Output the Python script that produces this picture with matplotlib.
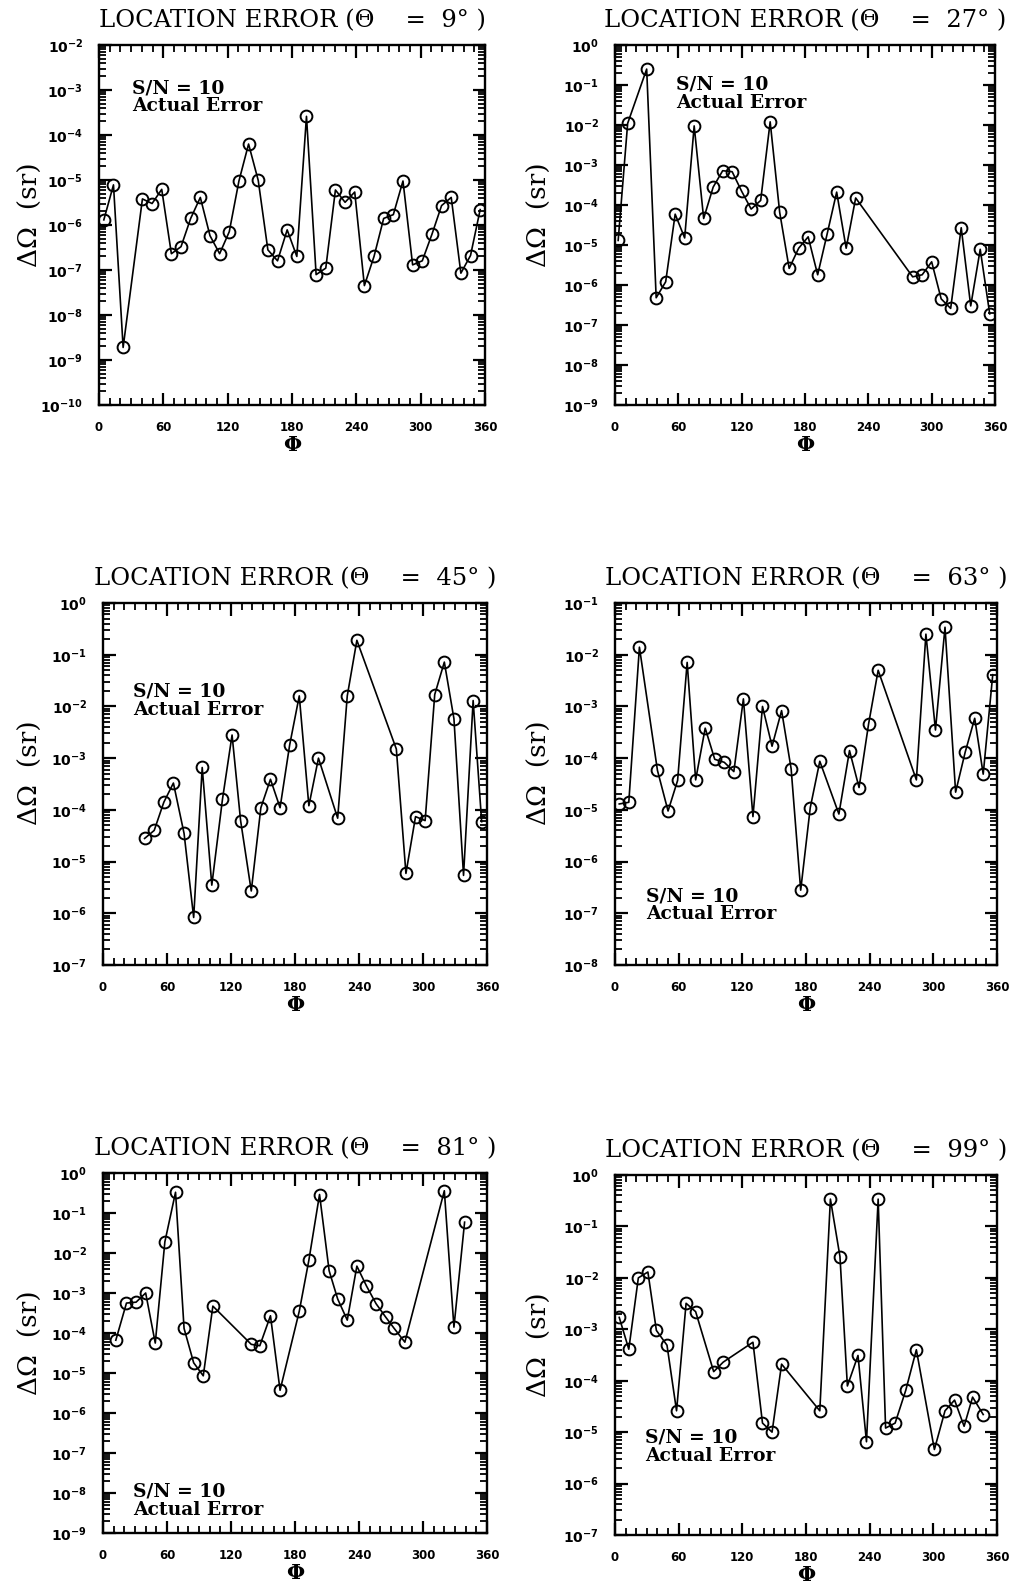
import numpy as np
import matplotlib
matplotlib.use('Agg')
import matplotlib.pyplot as plt
from matplotlib.ticker import MultipleLocator, LogLocator, FuncFormatter, NullFormatter

# location error vs phi for six theta values (S/N = 10)
phi_09 = [4.5, 13.5, 22.5, 40.5, 49.5, 58.5, 67.5, 76.5, 85.5, 94.5, 103.5, 112.5, 121.5,
          130.5, 139.5, 148.5, 157.5, 166.5, 175.5, 184.5, 193.5, 202.5, 211.5, 220.5, 229.5,
          238.5, 247.5, 256.5, 265.5, 274.5, 283.5, 292.5, 301.5, 310.5, 319.5, 328.5,
          337.5, 346.5, 355.5]
err_09 = [1.3e-6, 7.8e-6, 1.9e-9, 3.8e-6, 3.0e-6, 6.2e-6, 2.3e-7, 3.3e-7, 1.4e-6, 4.1e-6,
          5.8e-7, 2.3e-7, 7.1e-7, 9.5e-6, 6.3e-5, 9.8e-6, 2.8e-7, 1.6e-7, 7.8e-7, 2.0e-7,
          2.6e-4, 7.9e-8, 1.1e-7, 6.0e-6, 3.2e-6, 5.4e-6, 4.5e-8, 2.0e-7, 1.4e-6, 1.7e-6,
          9.5e-6, 1.3e-7, 1.6e-7, 6.2e-7, 2.7e-6, 4.1e-6, 8.5e-8, 2.1e-7, 2.2e-6]

phi_27 = [3, 12, 30, 39, 48, 57, 66, 75, 84, 93, 102, 111, 120, 129, 138, 147, 156, 165,
          174, 183, 192, 201, 210, 219, 228, 282, 291, 300, 309, 318, 328, 337, 346, 355]
err_27 = [1.3e-5, 1.1e-2, 2.5e-1, 4.8e-7, 1.2e-6, 5.9e-5, 1.5e-5, 9.5e-3, 4.6e-5, 2.8e-4,
          7.2e-4, 6.8e-4, 2.2e-4, 7.9e-5, 1.3e-4, 1.2e-2, 6.6e-5, 2.6e-6, 8.3e-6, 1.6e-5,
          1.8e-6, 1.9e-5, 2.1e-4, 8.3e-6, 1.5e-4, 1.6e-6, 1.8e-6, 3.8e-6, 4.5e-7, 2.6e-7,
          2.7e-5, 3.0e-7, 7.8e-6, 1.9e-7]

phi_45 = [39, 48, 57, 66, 76, 85, 93, 102, 112, 121, 129, 139, 148, 157, 166, 175, 184,
          193, 202, 220, 229, 238, 275, 284, 293, 302, 311, 320, 329, 338, 347, 355]
err_45 = [2.8e-5, 4.0e-5, 1.4e-4, 3.3e-4, 3.5e-5, 8.3e-7, 6.6e-4, 3.5e-6, 1.6e-4, 2.8e-3,
          6.2e-5, 2.7e-6, 1.1e-4, 3.9e-4, 1.1e-4, 1.8e-3, 1.6e-2, 1.2e-4, 1.0e-3, 6.9e-5,
          1.6e-2, 1.9e-1, 1.5e-3, 5.9e-6, 7.4e-5, 6.2e-5, 1.7e-2, 7.2e-2, 5.8e-3, 5.4e-6,
          1.3e-2, 5.9e-5]

phi_63 = [4, 13, 23, 40, 50, 59, 68, 76, 85, 94, 103, 112, 121, 130, 139, 148, 157, 166,
          175, 184, 193, 211, 221, 230, 239, 248, 284, 293, 302, 311, 321, 330, 339, 347, 356]
err_63 = [1.3e-5, 1.4e-5, 1.4e-2, 5.8e-5, 9.5e-6, 3.7e-5, 7.1e-3, 3.8e-5, 3.8e-4, 9.5e-5,
          8.3e-5, 5.5e-5, 1.4e-3, 7.4e-6, 1.0e-3, 1.7e-4, 8.3e-4, 6.2e-5, 2.8e-7, 1.1e-5,
          8.7e-5, 8.3e-6, 1.4e-4, 2.7e-5, 4.6e-4, 5.0e-3, 3.8e-5, 2.5e-2, 3.5e-4, 3.4e-2,
          2.2e-5, 1.3e-4, 5.9e-4, 4.9e-5, 4.1e-3]

phi_81 = [12, 22, 31, 40, 49, 58, 68, 76, 85, 94, 103, 139, 147, 157, 166, 184, 193, 203,
          212, 220, 229, 238, 247, 256, 265, 273, 283, 320, 329, 339]
err_81 = [6.6e-5, 5.6e-4, 5.9e-4, 1.0e-3, 5.6e-5, 1.9e-2, 3.3e-1, 1.3e-4, 1.8e-5, 8.5e-6,
          4.7e-4, 5.2e-5, 4.8e-5, 2.7e-4, 3.7e-6, 3.5e-4, 6.6e-3, 2.9e-1, 3.6e-3, 7.1e-4,
          2.1e-4, 4.7e-3, 1.5e-3, 5.4e-4, 2.5e-4, 1.3e-4, 5.9e-5, 3.6e-1, 1.4e-4, 5.9e-2]

phi_99 = [4, 13, 22, 31, 39, 49, 58, 67, 76, 93, 102, 130, 139, 148, 157, 193, 203, 212,
          219, 229, 237, 248, 255, 264, 274, 284, 301, 311, 320, 329, 337, 347]
err_99 = [1.7e-3, 4.1e-4, 1.0e-2, 1.3e-2, 9.5e-4, 4.9e-4, 2.6e-5, 3.2e-3, 2.2e-3, 1.5e-4,
          2.3e-4, 5.6e-4, 1.5e-5, 1.0e-5, 2.1e-4, 2.6e-5, 3.4e-1, 2.6e-2, 7.9e-5, 3.1e-4,
          6.5e-6, 3.4e-1, 1.2e-5, 1.5e-5, 6.5e-5, 4.0e-4, 4.6e-6, 2.6e-5, 4.2e-5, 1.3e-5,
          4.8e-5, 2.2e-5]

thetas = [9, 27, 45, 63, 81, 99]
ylims = [(1e-10, 1e-2), (1e-9, 1e0), (1e-7, 1e0), (1e-8, 1e-1), (1e-9, 1e0), (1e-7, 1e0)]

W, H = 1010, 1589
# pixel boxes (left, right, top, bottom)
boxes = [(99, 485, 45, 405), (615, 995, 45, 405),
         (103, 487, 603, 965), (615, 997, 603, 965),
         (103, 487, 1173, 1533), (615, 997, 1175, 1535)]
# where the S/N note sits (axes coords, top-left)
notes = [(0.085, 0.905), (0.16, 0.915), (0.078, 0.78), (0.081, 0.215), (0.078, 0.14), (0.079, 0.295)]
ylab_x = [43, 552, 43, 552, 43, 552]   # right edge of the rotated y label, px

data = [(phi_09, err_09), (phi_27, err_27), (phi_45, err_45),
        (phi_63, err_63), (phi_81, err_81), (phi_99, err_99)]

serif = 'DejaVu Serif'
fig = plt.figure(figsize=(W / 100, H / 100), dpi=100)

def decade(v, pos):
    return r'$\mathbf{10^{%d}}$' % int(round(np.log10(v)))

for i in range(6):
    l, r, t, b = boxes[i]
    ax = fig.add_axes([l / W, 1 - b / H, (r - l) / W, (b - t) / H])
    x, y = data[i]
    ax.plot(x, y, '-', color='k', lw=1.2)
    ax.plot(x, y, 'o', ms=8.5, mfc='none', mec='k', mew=1.4)
    ax.set_yscale('log')
    ax.set_xlim(0, 360)
    ax.set_ylim(*ylims[i])
    ax.xaxis.set_major_locator(MultipleLocator(60))
    ax.xaxis.set_minor_locator(MultipleLocator(10))
    ax.yaxis.set_major_locator(LogLocator(base=10, numticks=20))
    ax.yaxis.set_minor_locator(LogLocator(base=10, subs=np.arange(2, 10), numticks=20))
    ax.yaxis.set_major_formatter(FuncFormatter(decade))
    ax.yaxis.set_minor_formatter(NullFormatter())
    ax.tick_params(which='both', direction='in', top=True, right=True, color='black')
    ax.tick_params(which='major', length=9, width=1.6, pad=11.5)
    ax.tick_params(which='minor', length=5, width=1.3)
    ax.tick_params(axis='x', labelsize=8.5)
    ax.tick_params(axis='y', labelsize=10)
    for lab in ax.get_xticklabels():
        lab.set_fontweight('bold')
    for s in ax.spines.values():
        s.set_linewidth(1.7)
    ax.set_title('LOCATION ERROR (\u0398    =  %d\u00b0 )' % thetas[i], family=serif,
                 fontsize=17.5, pad=13)
    ax.set_ylabel('\u0394\u03a9  (sr)', family=serif, fontsize=19)
    ax.yaxis.set_label_coords((ylab_x[i] - l) / (r - l), 0.53)
    ax.set_xlabel('\u03a6', family=serif, fontsize=15, fontweight='bold', labelpad=1)
    nx, ny = notes[i]
    ax.text(nx, ny, 'S/N = 10\nActual Error', transform=ax.transAxes,
            family=serif, fontsize=13.5, fontweight='bold',
            va='top', ha='left', linespacing=1.0)

fig.savefig('out.png', dpi=100)
